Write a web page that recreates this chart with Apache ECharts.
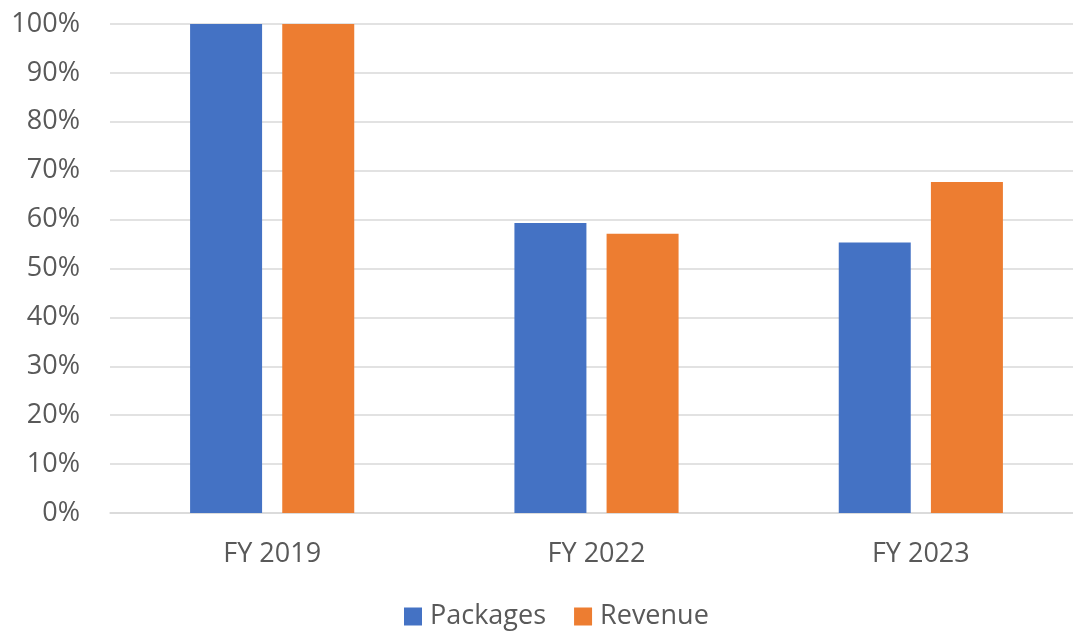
<!DOCTYPE html>
<html><head><meta charset="utf-8">
<script src="https://cdn.jsdelivr.net/npm/echarts@6/dist/echarts.min.js"></script>
<style>html,body{margin:0;padding:0;background:#fff;overflow:hidden;width:1073px;height:631px}#c{width:1083px;height:631px}</style>
</head><body><div id="c"></div>
<script>
const categories = ['FY 2019', 'FY 2022', 'FY 2023'];
const packages = [100, 59.3, 55.3];
const revenue = [100, 57.1, 67.7];
const seriesNames = ['Packages', 'Revenue'];
const FONT = '"Open Sans", "Liberation Sans", sans-serif';
const chart = echarts.init(document.getElementById('c'), null, {renderer: 'canvas'});
chart.setOption({
  animation: false,
  color: ['#4472C4', '#ED7D31'],
  grid: {left: 110, right: 0, top: 24, bottom: 118},
  legend: {
    left: 399, top: 598, itemWidth: 18, itemHeight: 18, itemGap: 28, icon: 'rect',
    textStyle: {fontFamily: FONT, fontSize: 27, color: '#595959', padding: [0, 0, 0, 3]},
    data: seriesNames
  },
  xAxis: {
    type: 'category', data: categories,
    axisLine: {lineStyle: {color: '#D9D9D9', width: 1.5}},
    axisTick: {show: false},
    axisLabel: {fontFamily: FONT, fontSize: 27, color: '#595959', margin: 28}
  },
  yAxis: {
    type: 'value', min: 0, max: 100, interval: 10,
    axisLine: {show: false}, axisTick: {show: false},
    splitLine: {lineStyle: {color: '#D9D9D9', width: 1.5}},
    axisLabel: {fontFamily: FONT, fontSize: 27, color: '#595959', margin: 30, formatter: '{value}%'}
  },
  series: [
    {name: seriesNames[0], type: 'bar', data: packages, barWidth: 72, barGap: '28%'},
    {name: seriesNames[1], type: 'bar', data: revenue, barWidth: 72, barGap: '28%'}
  ]
});
</script></body></html>
